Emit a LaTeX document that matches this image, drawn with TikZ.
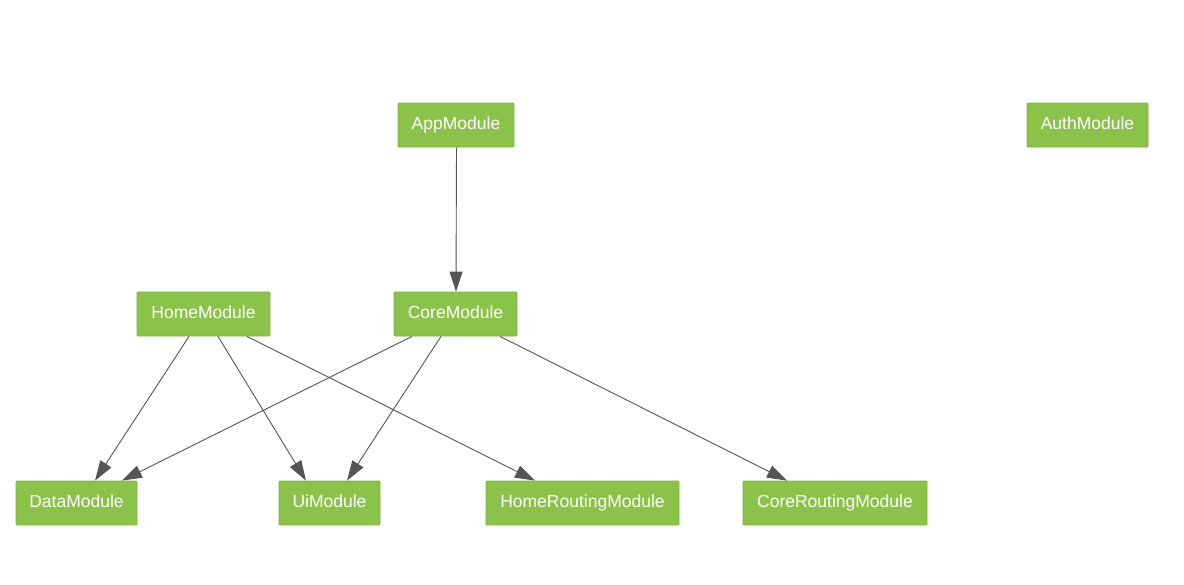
\documentclass[tikz,border=0pt]{standalone}
\usepackage{fontspec}
\setmainfont{Liberation Sans}
\usetikzlibrary{arrows.meta}
\definecolor{nodefill}{HTML}{8BC34A}
\definecolor{nodeborder}{HTML}{7CB342}
\definecolor{edgecol}{HTML}{555555}
\begin{document}
\begin{tikzpicture}[x=1pt,y=-1pt,
  mod/.style={draw=nodeborder, fill=nodefill, line width=0.8pt, rounded corners=1pt, text=white,
    font=\fontsize{17.5}{20}\selectfont, minimum height=44pt, inner sep=0pt,
    text height=13pt, text depth=3.5pt},
  dep/.style={draw=edgecol, line width=0.9pt, -{Triangle[length=20pt,width=13pt]}}]
\useasboundingbox[fill=white] (0,0) rectangle (1184,584);
\node[mod, minimum width=116pt] (app) at (456,125) {AppModule};
\node[mod, minimum width=121pt] (auth) at (1087.5,125) {AuthModule};
\node[mod, minimum width=133pt] (home) at (203.5,314) {HomeModule};
\node[mod, minimum width=123pt] (core) at (455.5,314) {CoreModule};
\node[mod, minimum width=121pt] (data) at (76.5,503) {DataModule};
\node[mod, minimum width=101pt] (ui) at (329.5,503) {UiModule};
\node[mod, minimum width=193pt] (homer) at (582.5,503) {HomeRoutingModule};
\node[mod, minimum width=184pt] (corer) at (835,503) {CoreRoutingModule};
\draw[dep] ([xshift=0.5pt]app.south) -- ([xshift=0.5pt]core.north);
\draw[dep] ([xshift=-14.5pt]home.south) -- ([xshift=18.5pt]data.north);
\draw[dep] ([xshift=14.5pt]home.south) -- ([xshift=-23.5pt]ui.north);
\draw[dep] ([xshift=43.5pt]home.south) -- ([xshift=-47.5pt]homer.north);
\draw[dep] ([xshift=-43.5pt]core.south) -- ([xshift=45.5pt]data.north);
\draw[dep] ([xshift=-14.5pt]core.south) -- ([xshift=17.5pt]ui.north);
\draw[dep] ([xshift=44.5pt]core.south) -- ([xshift=-48pt]corer.north);
\end{tikzpicture}
\end{document}
